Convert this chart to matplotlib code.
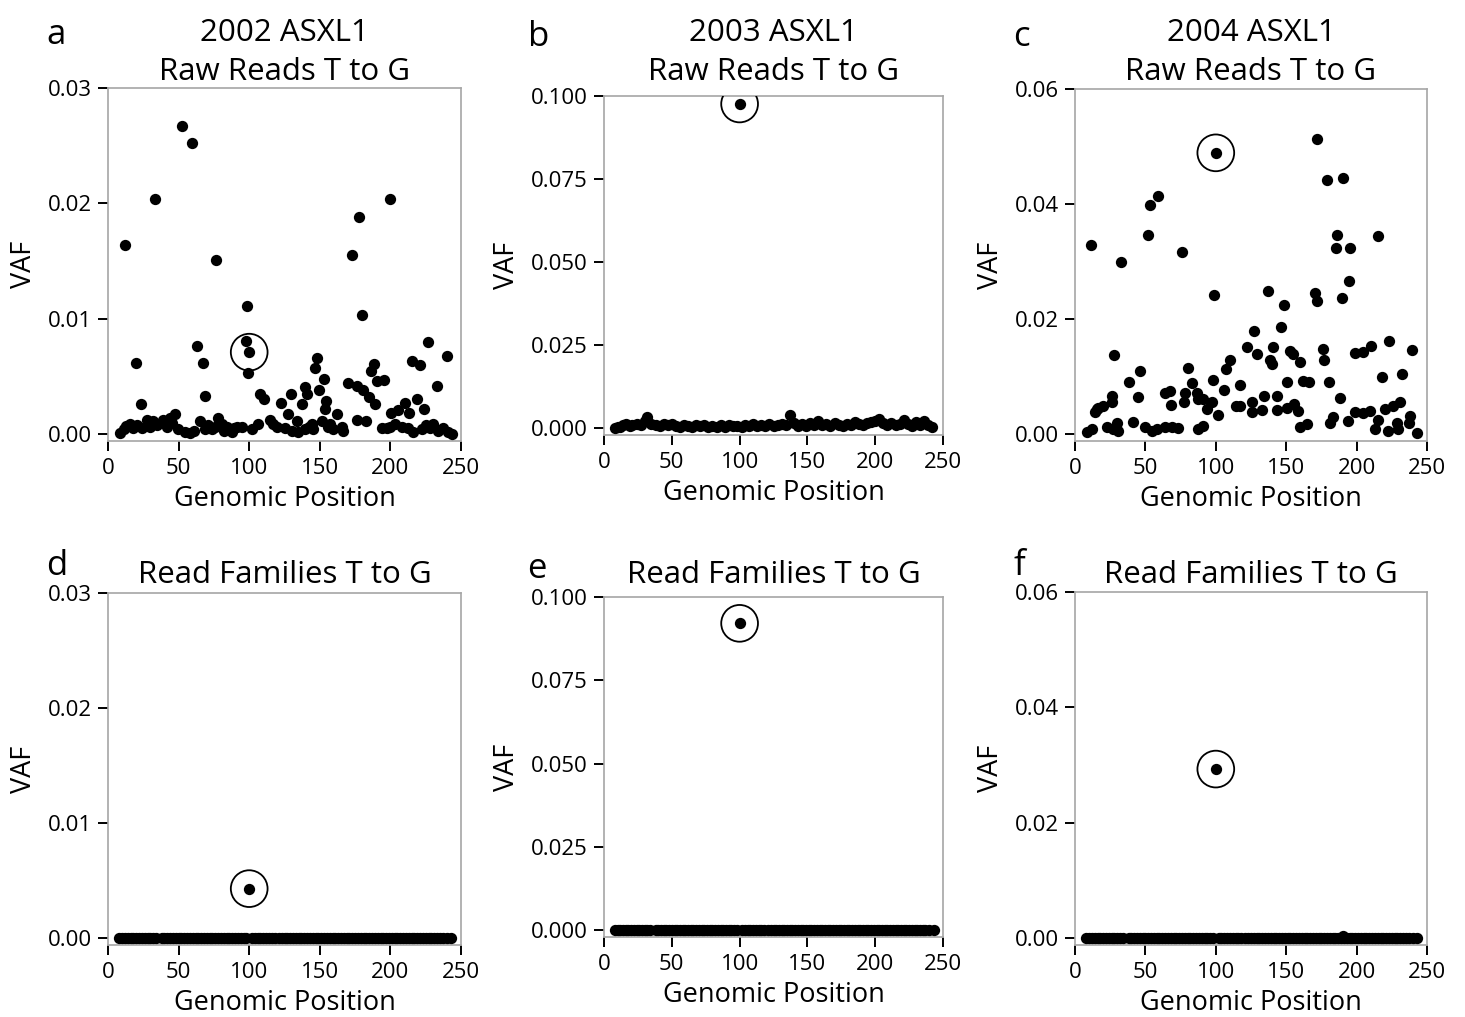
import matplotlib
matplotlib.use("Agg")
import matplotlib.pyplot as plt

plt.rcParams["font.family"] = ["Open Sans", "DejaVu Sans"]

# Panel a : 2002 raw reads
a_x = [52.2, 59.5, 33.5, 199.7, 177.5, 12.3, 76.3, 172.6, 98.4, 179.7, 226.9, 63.0, 97.5, 99.2,
       19.6, 67.5, 239.9, 148.3, 146.4, 188.2, 186.0, 215.3, 221.0, 68.5, 23.6, 152.7, 170.2,
       176.6, 180.8, 184.6, 189.3, 190.3, 195.3, 232.7, 107.6, 110.5, 122.5, 129.4, 127.7, 137.6,
       139.5, 141.2, 149.4, 154.4, 153.9, 162.2, 200.4, 205.6, 210.1, 213.4, 218.6, 223.8, 176.6,
       182.7,
       8.5, 11.3, 15.6, 17.9, 23.8, 27.4, 29.7, 32.1, 39.2, 41.5, 43.9, 47.4, 49.8, 54.5, 58.1,
       65.2, 68.7, 73.4, 78.1, 80.5, 84.0, 87.6, 91.1, 94.7, 101.7, 106.4, 114.7, 117.1, 125.3,
       133.6, 134.8, 139.5, 144.2, 145.4, 151.3, 157.2, 159.6, 165.5, 166.7, 193.8, 197.4, 203.3,
       208.0, 212.7, 216.2, 222.1, 228.0, 230.4, 237.5, 241.0, 243.4,
       13.0, 20.5, 35.0, 45.5, 61.0, 71.0, 76.0, 82.0, 89.0, 120.0, 130.0, 142.0, 155.5, 200.0,
       225.0, 234.0]
a_y = [0.0267, 0.0252, 0.0204, 0.0204, 0.0188, 0.0164, 0.0151, 0.0155, 0.0111, 0.0103, 0.0080,
       0.0076, 0.0081, 0.0053, 0.0062, 0.0062, 0.0068, 0.0066, 0.0057, 0.0061, 0.0055, 0.0063,
       0.0060, 0.0033, 0.0026, 0.0048, 0.0044, 0.0042, 0.0038, 0.0032, 0.0026, 0.0046, 0.0047,
       0.0042, 0.0035, 0.0030, 0.0027, 0.0035, 0.0017, 0.0026, 0.0041, 0.0035, 0.0038, 0.0029,
       0.0022, 0.0017, 0.0018, 0.0021, 0.0027, 0.0018, 0.0030, 0.0022, 0.0012, 0.0011,
       0.0001, 0.0004, 0.0009, 0.0005, 0.0005, 0.0012, 0.0006, 0.0011, 0.0012, 0.0006, 0.0014,
       0.0017, 0.0004, 0.0002, 0.0001, 0.0011, 0.0004, 0.0004, 0.0014, 0.0009, 0.0006, 0.0002,
       0.0006, 0.0006, 0.0004, 0.0009, 0.0012, 0.0009, 0.0005, 0.0011, 0.0002, 0.0004, 0.0009,
       0.0004, 0.0011, 0.0009, 0.0004, 0.0006, 0.0003, 0.0005, 0.0005, 0.0009, 0.0006, 0.0005,
       0.0002, 0.0004, 0.0005, 0.0009, 0.0005, 0.0002, 0.0000,
       0.0007, 0.0008, 0.0008, 0.0010, 0.0003, 0.0008, 0.0006, 0.0003, 0.0005, 0.0006, 0.0003,
       0.0006, 0.0006, 0.0006, 0.0008, 0.0003]

# Panel b : 2003 raw reads
b_x = [8, 10, 12, 14, 16, 19, 21, 24, 27, 30, 32, 35, 38, 41, 44, 47, 50, 53, 56, 59, 62, 65,
       68, 71, 74, 77, 80, 83, 86, 89, 92, 95, 98, 102, 104, 107, 110, 113, 116, 119, 122, 125,
       128, 131, 134, 137, 140, 143, 146, 149, 152, 155, 158, 161, 164, 167, 170, 173, 176, 179,
       182, 185, 188, 191, 194, 197, 200, 203, 206, 209, 212, 215, 218, 221, 224, 227, 230, 233,
       236, 239, 242]
b_y = [0.0002, 0.0005, 0.0004, 0.0009, 0.0012, 0.0008, 0.0011, 0.0014, 0.0009, 0.0022, 0.0034,
       0.0013, 0.0010, 0.0007, 0.0012, 0.0009, 0.0013, 0.0008, 0.0005, 0.0011, 0.0007, 0.0004,
       0.0009, 0.0006, 0.0010, 0.0005, 0.0008, 0.0004, 0.0009, 0.0005, 0.0011, 0.0006, 0.0008,
       0.0005, 0.0010, 0.0006, 0.0012, 0.0007, 0.0011, 0.0008, 0.0013, 0.0006, 0.0009, 0.0014,
       0.0011, 0.0040, 0.0016, 0.0008, 0.0012, 0.0007, 0.0015, 0.0010, 0.0021, 0.0009, 0.0013,
       0.0008, 0.0016, 0.0011, 0.0007, 0.0014, 0.0009, 0.0019, 0.0012, 0.0010, 0.0016, 0.0020,
       0.0023, 0.0028, 0.0015, 0.0011, 0.0017, 0.0009, 0.0013, 0.0026, 0.0014, 0.0008, 0.0019,
       0.0011, 0.0021, 0.0009, 0.0003]

# Panel c : 2004 raw reads
c_x = [171.6, 179.1, 190.0, 58.9, 53.0, 51.6, 11.6, 32.4, 76.0, 186.0, 185.1, 195.3, 215.4,
       194.3, 189.3, 98.7, 137.0, 148.2, 170.4, 172.0, 146.0, 126.9, 122.1, 129.2, 140.8, 138.7,
       140.1, 152.4, 154.5, 159.8, 176.3, 177.0, 198.8, 204.7, 210.2, 223.2, 239.0, 27.5, 46.4,
       38.6, 44.7, 26.0, 26.0, 80.5, 82.8, 78.1, 77.7, 86.4, 87.6, 91.2, 97.0, 93.5, 98.0, 106.0,
       107.0, 109.8, 101.3, 117.2, 114.1, 117.2, 125.7, 125.4, 133.0, 134.0, 143.2, 143.2, 150.3,
       155.7, 158.6, 150.7, 162.1, 166.1, 180.1, 188.4, 159.8, 164.5, 181.3, 183.5, 193.6, 198.8,
       204.7, 209.5, 218.2, 232.0, 215.4, 213.0, 220.1, 226.0, 230.8, 222.4, 228.4, 229.6, 237.9,
       237.4, 242.6, 8.3, 11.8, 14.2, 16.6, 20.1, 15.4, 22.5, 29.6, 27.2, 30.8, 41.0, 49.7, 54.5,
       58.0, 63.9, 67.5, 68.0, 63.9, 68.6, 73.4, 87.6, 91.1]
c_y = [0.0513, 0.0442, 0.0446, 0.0414, 0.0399, 0.0347, 0.0329, 0.0300, 0.0317, 0.0347, 0.0323,
       0.0323, 0.0344, 0.0266, 0.0236, 0.0241, 0.0248, 0.0225, 0.0245, 0.0231, 0.0187, 0.0180,
       0.0151, 0.0139, 0.0151, 0.0128, 0.0122, 0.0145, 0.0139, 0.0126, 0.0148, 0.0128, 0.0141,
       0.0142, 0.0154, 0.0161, 0.0147, 0.0137, 0.0109, 0.0090, 0.0064, 0.0067, 0.0055, 0.0115,
       0.0089, 0.0071, 0.0055, 0.0072, 0.0061, 0.0061, 0.0056, 0.0043, 0.0094, 0.0077, 0.0113,
       0.0129, 0.0033, 0.0086, 0.0048, 0.0048, 0.0055, 0.0038, 0.0042, 0.0067, 0.0067, 0.0042,
       0.0046, 0.0052, 0.0041, 0.0090, 0.0093, 0.0090, 0.0090, 0.0063, 0.0013, 0.0017, 0.0020,
       0.0029, 0.0023, 0.0039, 0.0036, 0.0040, 0.0100, 0.0104, 0.0025, 0.0009, 0.0043, 0.0049,
       0.0055, 0.0006, 0.0020, 0.0009, 0.0032, 0.0020, 0.0002, 0.0003, 0.0009, 0.0038, 0.0046,
       0.0049, 0.0044, 0.0012, 0.0020, 0.0009, 0.0006, 0.0021, 0.0012, 0.0006, 0.0009, 0.0072,
       0.0075, 0.0051, 0.0012, 0.0012, 0.0010, 0.0009, 0.0014]

# Panels d, e, f : read families, all positions at zero except the variant
fam_x = [8, 10, 12, 14, 16, 18, 20, 22, 24, 26, 28, 30, 32, 34, 38, 40, 42, 44, 46, 48, 50, 52,
         54, 56, 58, 60, 62, 64, 66, 68, 70, 72, 74, 76, 78, 80, 82, 84, 86, 88, 90, 92, 94, 96,
         98, 102, 104, 106, 108, 110, 112, 114, 116, 118, 121, 123, 125, 127, 129, 131, 133, 135,
         137, 139, 141, 143, 145, 147, 149, 151, 153, 155, 157, 159, 161, 163, 165, 167, 169, 171,
         173, 175, 177, 179, 181, 183, 185, 187, 189, 191, 193, 195, 197, 199, 201, 203, 205, 207,
         209, 211, 213, 215, 217, 219, 221, 223, 225, 227, 229, 231, 233, 235, 237, 240, 243]
f_bump_x = [190]
f_bump_y = [0.0003]

# highlighted variant (circled) in each panel
hl_x = 100
hl_y = [0.0071, 0.0976, 0.0489, 0.0043, 0.0921, 0.0293]

letters = ["a", "b", "c", "d", "e", "f"]
titles = ["2002 ASXL1\nRaw Reads T to G", "2003 ASXL1\nRaw Reads T to G",
          "2004 ASXL1\nRaw Reads T to G", "Read Families T to G", "Read Families T to G",
          "Read Families T to G"]
yticks = [[0, 0.01, 0.02, 0.03], [0, 0.025, 0.05, 0.075, 0.1], [0, 0.02, 0.04, 0.06]] * 2
ytick_fmt = ["%.2f", "%.3f", "%.2f"] * 2
ylims = [(-0.0006, 0.03), (-0.002, 0.1), (-0.0012, 0.06)] * 2

W, H = 1465, 1017
# axes boxes in pixels: left, top, right, bottom
boxes = [(108, 88, 461, 441), (604, 96, 943, 435), (1075, 89, 1427, 441),
         (108, 593, 461, 945), (604, 597, 943, 937), (1075, 592, 1427, 945)]
title_base = [80, 80, 80, 583, 583, 583]
letter_pos = [(46, 44), (528, 46), (1013, 46), (46, 575), (527, 578), (1013, 575)]

fig = plt.figure(figsize=(W / 100, H / 100), dpi=100)

data = [(a_x, a_y), (b_x, b_y), (c_x, c_y),
        (fam_x, [0] * len(fam_x)), (fam_x, [0] * len(fam_x)),
        (fam_x + f_bump_x, [0] * len(fam_x) + f_bump_y)]

for i in range(6):
    l, t, r, b = boxes[i]
    ax = fig.add_axes([l / W, 1 - b / H, (r - l) / W, (b - t) / H])
    xs, ys = data[i]
    ax.scatter(xs, ys, s=66, color="black", linewidths=0, zorder=3)
    ax.scatter([hl_x], [hl_y[i]], s=66, color="black", linewidths=0, zorder=3)
    ax.scatter([hl_x], [hl_y[i]], s=700, facecolors="none", edgecolors="black",
               linewidths=1.3, zorder=4)
    ax.set_xlim(0, 250)
    ax.set_ylim(*ylims[i])
    ax.set_xticks([0, 50, 100, 150, 200, 250])
    ax.set_yticks(yticks[i])
    ax.set_yticklabels([ytick_fmt[i] % v for v in yticks[i]])
    for sp in ax.spines.values():
        sp.set_color("#a6a6a6")
        sp.set_linewidth(1.2)
    ax.tick_params(direction="out", length=7.5, width=1.4, color="black",
                   labelsize=16)
    ax.tick_params(axis="x", pad=5)
    ax.tick_params(axis="y", pad=4)
    ax.set_xlabel("Genomic Position", fontsize=19.5, labelpad=4)
    ax.set_ylabel("VAF", fontsize=19.5, labelpad=7)
    ax.set_title(titles[i], fontsize=22.5, pad=(t - title_base[i]) * 0.72, linespacing=1.4)
    fig.text(letter_pos[i][0] / W, 1 - letter_pos[i][1] / H, letters[i], fontsize=25,
             va="baseline", ha="left")

fig.savefig("out.png", dpi=100)
